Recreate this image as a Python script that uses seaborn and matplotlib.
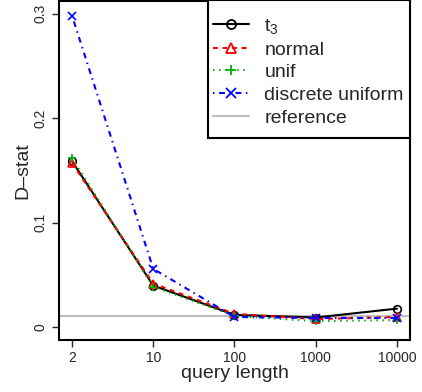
import numpy as np
import pandas as pd
import matplotlib
matplotlib.use("Agg")
import matplotlib.pyplot as plt
import seaborn as sns
from matplotlib.lines import Line2D
from matplotlib.patches import Rectangle

sns.set_style("white")
plt.rcParams["font.family"] = ["Liberation Sans", "DejaVu Sans"]
plt.rcParams["mathtext.fontset"] = "custom"
plt.rcParams["mathtext.rm"] = "Liberation Sans"
plt.rcParams["mathtext.it"] = "Liberation Sans"
plt.rcParams["mathtext.default"] = "regular"

query_lengths = ["2", "10", "100", "1000", "10000"]
t3 = [0.159, 0.040, 0.012, 0.0095, 0.018]
normal = [0.157, 0.042, 0.013, 0.008, 0.010]
unif = [0.162, 0.039, 0.011, 0.006, 0.007]
discrete_uniform = [0.298, 0.056, 0.010, 0.009, 0.009]
reference = 0.0105

pos = np.arange(1, len(query_lengths) + 1)

W, H = 422, 392
fig = plt.figure(figsize=(W / 100, H / 100), dpi=100)
ax = fig.add_axes([59 / W, 1 - 340 / H, (410 - 59) / W, (340 - 1) / H])

lw = 1.5
ms = 5.5
series = [
    ("t3", t3, "black", "o", None),
    ("normal", normal, "red", "^", (2.3, 2.3)),
    ("unif", unif, "#00b000", "+", (0.7, 2.2)),
    ("discrete uniform", discrete_uniform, "blue", "x", (0.7, 2.2, 2.8, 2.2)),
]

ax.axhline(reference, color="#bebebe", lw=lw, zorder=1)

handles = []
for name, vals, col, mk, dash in series:
    df = pd.DataFrame({"x": pos, "y": vals})
    kw = dict(data=df, x="x", y="y", ax=ax, color=col, lw=lw, marker=mk,
              markersize=ms, markeredgewidth=1.2, markeredgecolor=col)
    if mk in ("o", "^"):
        kw["markerfacecolor"] = "none"
    sns.lineplot(**kw)
    l = ax.lines[-1]
    if dash is not None:
        l.set_dashes(dash)
    h = Line2D([], [], color=col, lw=lw, marker=mk, markersize=ms + 1,
               markeredgewidth=1.3, markerfacecolor="none" if mk in ("o", "^") else col)
    if dash is not None:
        h.set_dashes(dash)
    handles.append(h)
handles.append(Line2D([], [], color="#bebebe", lw=lw))
labels = ["t$_3$", "normal", "unif", "discrete uniform", "reference"]

ax.set_xlim(0.84, 5.16)
ax.set_ylim(-0.012, 0.312)
ax.set_xticks(pos)
ax.set_xticklabels(query_lengths)
ax.set_yticks([0, 0.1, 0.2, 0.3])
ax.set_yticklabels(["0", "0.1", "0.2", "0.3"], rotation=90, va="center")
ax.tick_params(axis="both", labelsize=10, length=5, width=1, direction="out",
               bottom=True, left=True, pad=3)
for s in ax.spines.values():
    s.set_linewidth(1.5)
    s.set_color("black")
    s.set_visible(True)

ax.set_xlabel("query length", fontsize=14, labelpad=0)
ax.set_ylabel("D\u2013stat", fontsize=14, labelpad=2)

# legend frame drawn manually (box from x=208..410 px, y=0..138 px)
ax_l, ax_r, ax_t, ax_b = 59, 410, 1, 340
def fx(px):
    return (px - ax_l) / (ax_r - ax_l)
def fy(py):
    return (ax_b - py) / (ax_b - ax_t)
rect = Rectangle((fx(208), fy(138)), fx(410) - fx(208), fy(0) - fy(138),
                 transform=ax.transAxes, facecolor="white", edgecolor="black",
                 lw=1.5, zorder=5, clip_on=False)
ax.add_patch(rect)

leg = ax.legend(handles, labels, loc="upper left", bbox_to_anchor=(fx(209), fy(13)),
                borderaxespad=0, fontsize=14, frameon=False,
                handlelength=1.85, handletextpad=0.8, labelspacing=0.26,
                borderpad=0.2)
leg.set_zorder(6)

fig.savefig("out.png", dpi=100)
